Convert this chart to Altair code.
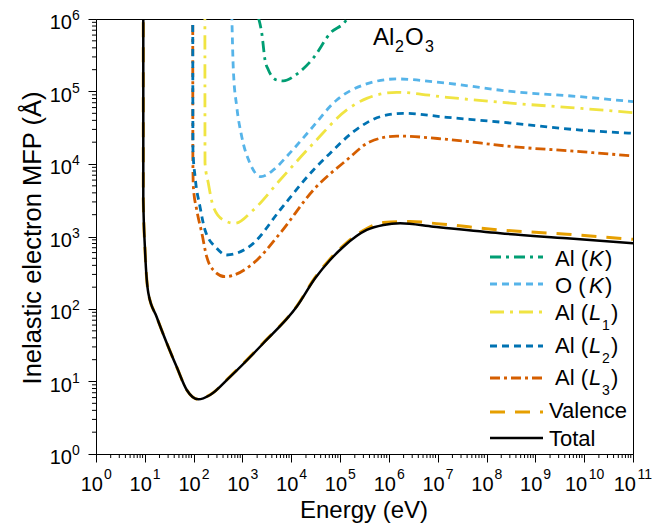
import altair as alt
import pandas as pd

FONT = "Liberation Sans"
W, H = 537, 435

# ---------------- data (energy in eV, IMFP in Å) ----------------
al_k_E = [2120, 2490, 2900, 3400, 5050, 6890, 13000, 28400, 62400, 138000, 170000]
al_k_M = [1.05e6, 635000, 272000, 198000, 144000, 140000, 174000, 290000, 635000, 1.0e6, 1.4e6]

o_k_E = [604, 651, 764, 968, 1430, 2400, 4300, 8590, 24300, 85500, 300000, 1.45e6, 1.54e7, 3.56e8, 8.28e9, 1e11]
o_k_M = [1.2e6, 198000, 61700, 23800, 10200, 6680, 8270, 13300, 29400, 76400, 123000, 149000, 130000, 99300, 84800, 72300]

al_l1_E = [170, 171, 200, 253, 406, 705, 1670, 5890, 28400, 137000, 352000, 1.45e6, 1.54e7, 3.56e8, 8.28e9, 1e11]
al_l1_M = [1.5e6, 10300, 5420, 2580, 1690, 1520, 2320, 6010, 19300, 55600, 80500, 97500, 83200, 68700, 58600, 51000]

al_l2_E = [95.9, 96.8, 107, 135, 171, 297, 476, 1670, 5890, 28400, 62400, 188000, 661000, 1.98e6, 1.54e7, 3.56e8, 8.28e9, 1e11]
al_l2_M = [8.26e5, 15600, 6680, 2580, 1230, 688, 556, 805, 2320, 8270, 14060, 27900, 44900, 50000, 44100, 36400, 29400, 26500]

al_l3_E = [95.9, 96.5, 98.6, 116, 147, 185, 253, 440, 1670, 5890, 28400, 137000, 412000, 1.45e6, 1.54e7, 3.56e8, 8.28e9, 1e11]
al_l3_M = [8.26e5, 10300, 4860, 2310, 1118, 526, 345, 279, 427, 1107, 4380, 11350, 20300, 24300, 21900, 17300, 14800, 12900]

valence_E = [9.30, 9.31, 10.1, 11.8, 17.5, 28.1, 45.1, 72.3, 125, 217, 557, 2680, 13000, 30800, 62400, 117000, 352000, 771000, 2.7e6, 1.12e7, 1.9e8, 4.43e9, 1e11]
valence_M = [2e6, 3185, 652, 166, 77.6, 34.0, 15.8, 7.64, 5.68, 6.55, 11.7, 34.2, 110, 272, 490, 750, 1290, 1560, 1610, 1490, 1230, 1075, 914]

total_E = [9.30, 9.31, 10.1, 11.8, 17.5, 28.1, 45.1, 72.3, 125, 217, 557, 2680, 13000, 30800, 62400, 117000, 352000, 771000, 1.7e6, 8.17e6, 1.9e8, 4.43e9, 1e11]
total_M = [2e6, 3185, 652, 166, 77.6, 34.0, 15.8, 7.64, 5.68, 6.52, 11.6, 33.7, 108, 265, 474, 723, 1230, 1440, 1520, 1365, 1107, 944, 805]

x_exponents = list(range(0, 12))
y_exponents = list(range(0, 7))

# ---------------- scales / axes ----------------
x_major = [10 ** e for e in x_exponents]
y_major = [10 ** e for e in y_exponents]
x_minor = [m * 10 ** e for e in range(0, 11) for m in range(2, 10)]
y_minor = [m * 10 ** e for e in range(0, 6) for m in range(2, 10)]

x_scale = alt.Scale(type="log", domain=[1, 1e11])
y_scale = alt.Scale(type="log", domain=[1, 1e6])
axis_common = dict(labels=False, title=None, grid=False, tickSize=8, tickWidth=1,
                   tickColor="black", domainColor="black", domainWidth=1)
x_axis = alt.Axis(values=x_major, **axis_common)
y_axis = alt.Axis(values=y_major, **axis_common)


def xenc(field="E"):
    return alt.X(f"{field}:Q", scale=x_scale, axis=x_axis)


def yenc(field="M"):
    return alt.Y(f"{field}:Q", scale=y_scale, axis=y_axis)


def line(E, M, color, width, dash=None):
    kw = dict(color=color, strokeWidth=width, clip=True, interpolate="monotone")
    if dash is not None:
        kw["strokeDash"] = dash
    return alt.Chart(pd.DataFrame({"E": E, "M": M})).mark_line(**kw).encode(x=xenc(), y=yenc())


C_ALK = "#009E73"
C_OK = "#56B4E9"
C_L1 = "#F0E442"
C_L2 = "#0072B2"
C_L3 = "#D55E00"
C_VAL = "#E69F00"
C_TOT = "#000000"

D_ALK = [11, 5, 3, 5]
D_OK = [7, 5]
D_L1 = [14, 6, 3, 6]
D_L2 = [7, 5]
D_L3 = [10, 4, 3, 4]
D_VAL = [15, 10]

layers = [
    line(valence_E, valence_M, C_VAL, 3, D_VAL),
    line(al_l3_E, al_l3_M, C_L3, 2.8, D_L3),
    line(al_l2_E, al_l2_M, C_L2, 2.8, D_L2),
    line(al_l1_E, al_l1_M, C_L1, 2.8, D_L1),
    line(o_k_E, o_k_M, C_OK, 2.8, D_OK),
    line(al_k_E, al_k_M, C_ALK, 2.8, D_ALK),
    line(total_E, total_M, C_TOT, 2.5),
]

# minor ticks (outward)
layers.append(alt.Chart(pd.DataFrame({"E": x_minor})).mark_rule(color="black", strokeWidth=1).encode(
    x=xenc(), y=alt.value(H), y2=alt.value(H + 4)))
layers.append(alt.Chart(pd.DataFrame({"M": y_minor})).mark_rule(color="black", strokeWidth=1).encode(
    y=yenc(), x=alt.value(0), x2=alt.value(-4)))

# tick labels 10^n
xl = pd.DataFrame({"E": x_major, "base": ["10"] * len(x_major), "sup": [str(e) for e in x_exponents]})
xl1 = xl[xl["sup"].str.len() == 1]
xl2 = xl[xl["sup"].str.len() == 2]
for df, dxb, dxs in [(xl1, 7, 8), (xl2, 3, 4.5)]:
    layers.append(alt.Chart(df).mark_text(font=FONT, fontSize=20, align="right", baseline="alphabetic", dx=dxb).encode(
        x=xenc(), y=alt.value(H + 37), text="base:N"))
    layers.append(alt.Chart(df).mark_text(font=FONT, fontSize=14, align="left", baseline="alphabetic", dx=dxs).encode(
        x=xenc(), y=alt.value(H + 25), text="sup:N"))

yl = pd.DataFrame({"M": y_major, "base": ["10"] * len(y_major), "sup": [str(e) for e in y_exponents]})
layers.append(alt.Chart(yl).mark_text(font=FONT, fontSize=20, align="right", baseline="alphabetic", dy=10).encode(
    y=yenc(), x=alt.value(-24), text="base:N"))
layers.append(alt.Chart(yl).mark_text(font=FONT, fontSize=14, align="left", baseline="alphabetic", dy=1).encode(
    y=yenc(), x=alt.value(-24), text="sup:N"))

one = pd.DataFrame({"k": [0]})


def txt(s, x, y, size=22, style="normal", align="left", angle=None):
    kw = dict(text=s, font=FONT, fontSize=size, fontStyle=style, align=align, baseline="alphabetic", color="black")
    if angle is not None:
        kw["angle"] = angle
    return alt.Chart(one).mark_text(**kw).encode(x=alt.value(x), y=alt.value(y))


def sample(y, color, width, dash=None):
    kw = dict(color=color, strokeWidth=width)
    if dash is not None:
        kw["strokeDash"] = dash
    return alt.Chart(one).mark_rule(**kw).encode(x=alt.value(394), x2=alt.value(447), y=alt.value(y))


# axis titles
layers.append(txt("Energy (eV)", 268, 499, size=24, align="center"))
layers.append(txt("Inelastic electron MFP (Å)", -55, 219, size=25.5, align="center", angle=270))

# Al2O3 label
layers += [txt("Al", 277, 26, size=24), txt("2", 299, 33, size=16),
           txt("O", 309, 26, size=24), txt("3", 329, 33, size=16)]

# legend
layers += [sample(238, C_ALK, 2.8, D_ALK), txt("Al (", 459, 247), txt("K", 493, 247, style="italic"), txt(")", 509, 247)]
layers += [sample(265, C_OK, 2.8, D_OK), txt("O (", 459, 274), txt("K", 493, 274, style="italic"), txt(")", 509, 274)]
for yl_, ys, sub, col, dash in [(293, 301, "1", C_L1, D_L1), (327, 334, "2", C_L2, D_L2), (359, 366, "3", C_L3, D_L3)]:
    layers += [sample(yl_, col, 2.8, dash), txt("Al (", 459, ys), txt("L", 493, ys, style="italic"),
               txt(sub, 506, ys + 10, size=14), txt(")", 515, ys)]
layers += [sample(393, C_VAL, 3, D_VAL), txt("Valence", 453, 399)]
layers += [sample(419, C_TOT, 2.5), txt("Total", 453, 427)]

chart = alt.layer(*layers).properties(
    width=W, height=H,
    padding={"left": 96, "top": 19, "right": 31, "bottom": 72},
    autosize=alt.AutoSizeParams(type="none"),
    background="white",
).configure_view(stroke="black", strokeWidth=1)

chart.save("out.html", embed_options={"renderer": "svg", "actions": False})
